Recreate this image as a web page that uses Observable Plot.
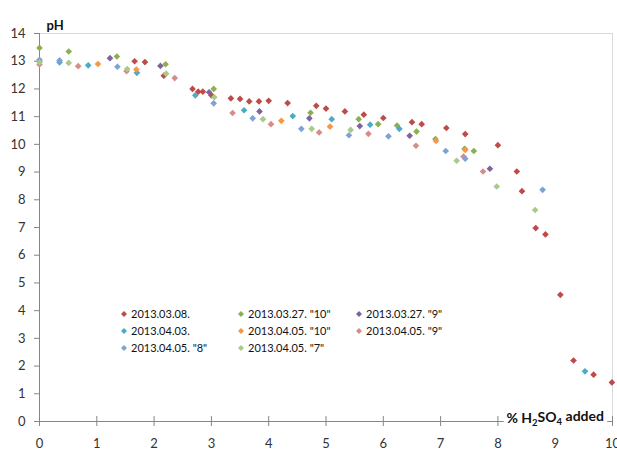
<!DOCTYPE html>
<html>
<head>
<meta charset="utf-8">
<script src="https://cdn.jsdelivr.net/npm/d3@7"></script>
<script src="https://cdn.jsdelivr.net/npm/@observablehq/plot@0.6"></script>
<style>
  html, body { margin: 0; padding: 0; background: #fff; }
  #wrap { position: relative; width: 617px; height: 451px; font-family: Lato, "Open Sans", sans-serif; }
  #legend { position: absolute; left: 120px; top: 305px; display: grid; grid-template-columns: 117px 118px 110px; grid-auto-rows: 17px; font-size: 11px; color: #111; }
  #legend .item { display: flex; align-items: center; white-space: pre; }
  #legend svg { margin-right: 3px; }
</style>
</head>
<body>
<div id="wrap"></div>
<script>
// Series names (legend order) and colours
const names = ['2013.03.08.', '2013.03.27. "10"', '2013.03.27. "9"', '2013.04.03.', '2013.04.05. "10"', '2013.04.05. "9"', '2013.04.05. "8"', '2013.04.05. "7"'];
const colors = ["#BE4B48", "#8CB04F", "#7F63A1", "#4AACC5", "#F79646", "#D48D8B", "#7EA1D6", "#ABC98B"];

// [ % H2SO4 added , pH ]
const s0308 = [[1.66,13.0],[1.84,12.97],[2.17,12.48],[2.67,12.0],[2.77,11.9],[2.85,11.9],[3.0,11.77],[3.34,11.66],[3.5,11.64],[3.66,11.55],[3.83,11.55],[4.0,11.57],[4.33,11.49],[4.83,11.39],[5.0,11.29],[5.33,11.19],[5.66,11.07],[6.0,10.95],[6.5,10.8],[6.67,10.73],[7.1,10.59],[7.43,10.37],[8.0,9.97],[8.33,9.02],[8.42,8.31],[8.66,6.98],[8.83,6.75],[9.09,4.57],[9.32,2.2],[9.67,1.69],[9.99,1.41]];
const s0327_10 = [[0,13.48],[0.51,13.35],[1.35,13.17],[2.2,12.89],[3.04,12.0],[4.73,11.14],[5.57,10.91],[5.91,10.73],[6.24,10.68],[6.58,10.46],[6.91,10.19],[7.42,9.84],[7.58,9.76]];
const s0327_9 = [[1.23,13.11],[2.11,12.83],[2.96,11.88],[3.84,11.19],[4.71,10.94],[5.59,10.66],[6.46,10.31],[7.86,9.12]];
const s0403 = [[0,13.0],[0.35,12.96],[0.85,12.85],[1.7,12.58],[2.72,11.77],[3.57,11.23],[4.42,11.02],[5.1,10.91],[5.77,10.71],[6.28,10.56],[9.52,1.81]];
const s0405_10 = [[1.02,12.9],[1.69,12.7],[4.22,10.85],[5.07,10.64],[6.92,10.12],[7.43,9.8]];
const s0405_9 = [[0,12.88],[0.675,12.82],[1.52,12.64],[2.36,12.39],[3.37,11.13],[4.04,10.73],[4.88,10.43],[5.74,10.38],[6.57,9.95],[7.4,9.56],[7.74,9.02]];
const s0405_8 = [[0,13.05],[0.35,13.03],[1.36,12.8],[3.04,11.48],[3.72,10.94],[4.57,10.56],[5.4,10.33],[6.09,10.29],[7.09,9.76],[7.43,9.48],[8.78,8.36]];
const s0405_7 = [[0,12.96],[0.51,12.94],[1.53,12.72],[2.21,12.55],[3.05,11.7],[3.9,10.91],[4.75,10.56],[5.43,10.52],[7.28,9.41],[7.98,8.48],[8.65,7.63]];

const xTicks = [0,1,2,3,4,5,6,7,8,9,10];
const yTicks = [0,1,2,3,4,5,6,7,8,9,10,11,12,13,14];
const xLabel = "% H2SO4 added";

const seriesList = [s0308, s0327_10, s0327_9, s0403, s0405_10, s0405_9, s0405_8, s0405_7];
const data = seriesList.flatMap((s, i) => s.map(([x, y]) => ({x, y, name: names[i]})));

const axisColor = "#868686";
const labelOpts = {x: 9.0, y: 0, dy: -2.5, textAnchor: "middle", fontSize: 14, fontWeight: "bold"};
const chart = Plot.plot({
  width: 617,
  height: 451,
  marginLeft: 39,
  marginRight: 5,
  marginTop: 33,
  marginBottom: 30,
  style: {fontFamily: "Lato, 'Open Sans', sans-serif", background: "#fff"},
  x: {domain: [0, 10]},
  y: {domain: [0, 14]},
  color: {domain: names, range: colors},
  marks: [
    Plot.ruleY([14], {stroke: "#D9D9D9"}),
    Plot.ruleX([10], {stroke: "#D9D9D9", insetBottom: -4}),
    Plot.ruleX([0], {stroke: axisColor}),
    Plot.ruleY([0], {stroke: axisColor, insetLeft: -5}),
    Plot.ruleX(xTicks, {x: d => d, y1: 0, y2: 0, insetTop: -5, insetBottom: -5, stroke: axisColor}),
    Plot.axisY({ticks: yTicks, tickSize: 5, tickPadding: 9, fontSize: 13, label: null, stroke: axisColor, fill: "#333"}),
    Plot.axisX({ticks: xTicks, tickSize: 0, tickPadding: 17, fontSize: 13, label: null, fill: "#333"}),
    Plot.dot(data, {x: "x", y: "y", fill: "name", symbol: "diamond2", r: 3}),
    Plot.text(["pH"], {frameAnchor: "top-left", dx: 7, dy: -13, textAnchor: "start", fontSize: 13, fontWeight: "bold", fill: "#111"}),
    Plot.text([xLabel], {...labelOpts, fill: "white", stroke: "white", strokeWidth: 8}),
    Plot.text([xLabel], {...labelOpts, fill: "#111"})
  ]
});

// subscripts in the x label
d3.select(chart).selectAll("text").filter(function() { return this.textContent === xLabel; })
  .each(function() {
    const t = d3.select(this);
    t.text(null);
    t.append("tspan").text("% H");
    t.append("tspan").text("2").attr("font-size", "9.5px").attr("dy", "0.3em");
    t.append("tspan").text("SO").attr("dy", "-0.3em");
    t.append("tspan").text("4").attr("font-size", "9.5px").attr("dy", "0.3em");
    t.append("tspan").text(" added").attr("dy", "-0.3em");
  });

const wrap = document.getElementById("wrap");
wrap.appendChild(chart);

// legend (3 columns, row-major)
const legend = document.createElement("div");
legend.id = "legend";
names.forEach((n, i) => {
  const item = document.createElement("div");
  item.className = "item";
  item.innerHTML = `<svg width="8" height="8" viewBox="-4 -4 8 8"><path d="M0,-3L3,0L0,3L-3,0Z" fill="${colors[i]}"/></svg><span>${n.replace(/"/g, "&quot;")}</span>`;
  legend.appendChild(item);
});
wrap.appendChild(legend);
</script>
</body>
</html>
